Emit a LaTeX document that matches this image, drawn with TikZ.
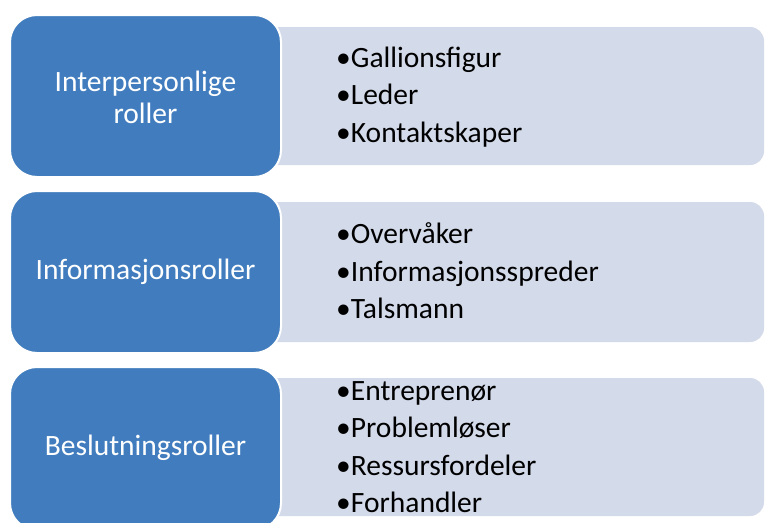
\documentclass[tikz,border=0pt]{standalone}
\usepackage{fontspec}
\setmainfont{Carlito}
\definecolor{roleblue}{RGB}{65,125,190}
\definecolor{listbg}{RGB}{211,218,234}
\tikzset{
  rolebox/.style={draw=white,line width=2pt,fill=roleblue,rounded corners=27pt},
  listbox/.style={fill=listbg,rounded corners=14pt},
  roletext/.style={text=white,font=\fontsize{29.5}{32}\selectfont,align=center},
  item/.style={anchor=base west,inner sep=0pt,font=\fontsize{29.5}{32}\selectfont}
}
\begin{document}
\begin{tikzpicture}[x=1pt,y=-1pt]
\useasboundingbox (0,0) rectangle (765,522);
\fill[white] (0,0) rectangle (765,522);
% light list boxes
\fill[listbox] (260,27) rectangle (764,165);
\fill[listbox] (260,202) rectangle (764,342);
\fill[listbox] (260,378) rectangle (764,516);
% blue role boxes
\draw[rolebox] (10,15) rectangle (281,177);
\draw[rolebox] (10,191) rectangle (281,353);
\draw[rolebox] (10,367) rectangle (281,530);
\node[roletext] (r1) at (145.5,97) {Interpersonlige\\roller};
\node[roletext] (r2) at (145.5,272) {Informasjonsroller};
\node[roletext] (r3) at (145.5,448) {Beslutningsroller};
% items
\node[item] (a1) at (336,67) {•Gallionsfigur};
\node[item] (a2) at (336,104.5) {•Leder};
\node[item] (a3) at (336,142) {•Kontaktskaper};
\node[item] (b1) at (336,243.5) {•Overvåker};
\node[item] (b2) at (336,281) {•Informasjonsspreder};
\node[item] (b3) at (336,318.5) {•Talsmann};
\node[item] (c1) at (336,400) {•Entreprenør};
\node[item] (c2) at (336,437.5) {•Problemløser};
\node[item] (c3) at (336,475) {•Ressursfordeler};
\node[item] (c4) at (336,512.5) {•Forhandler};
\end{tikzpicture}
\end{document}
